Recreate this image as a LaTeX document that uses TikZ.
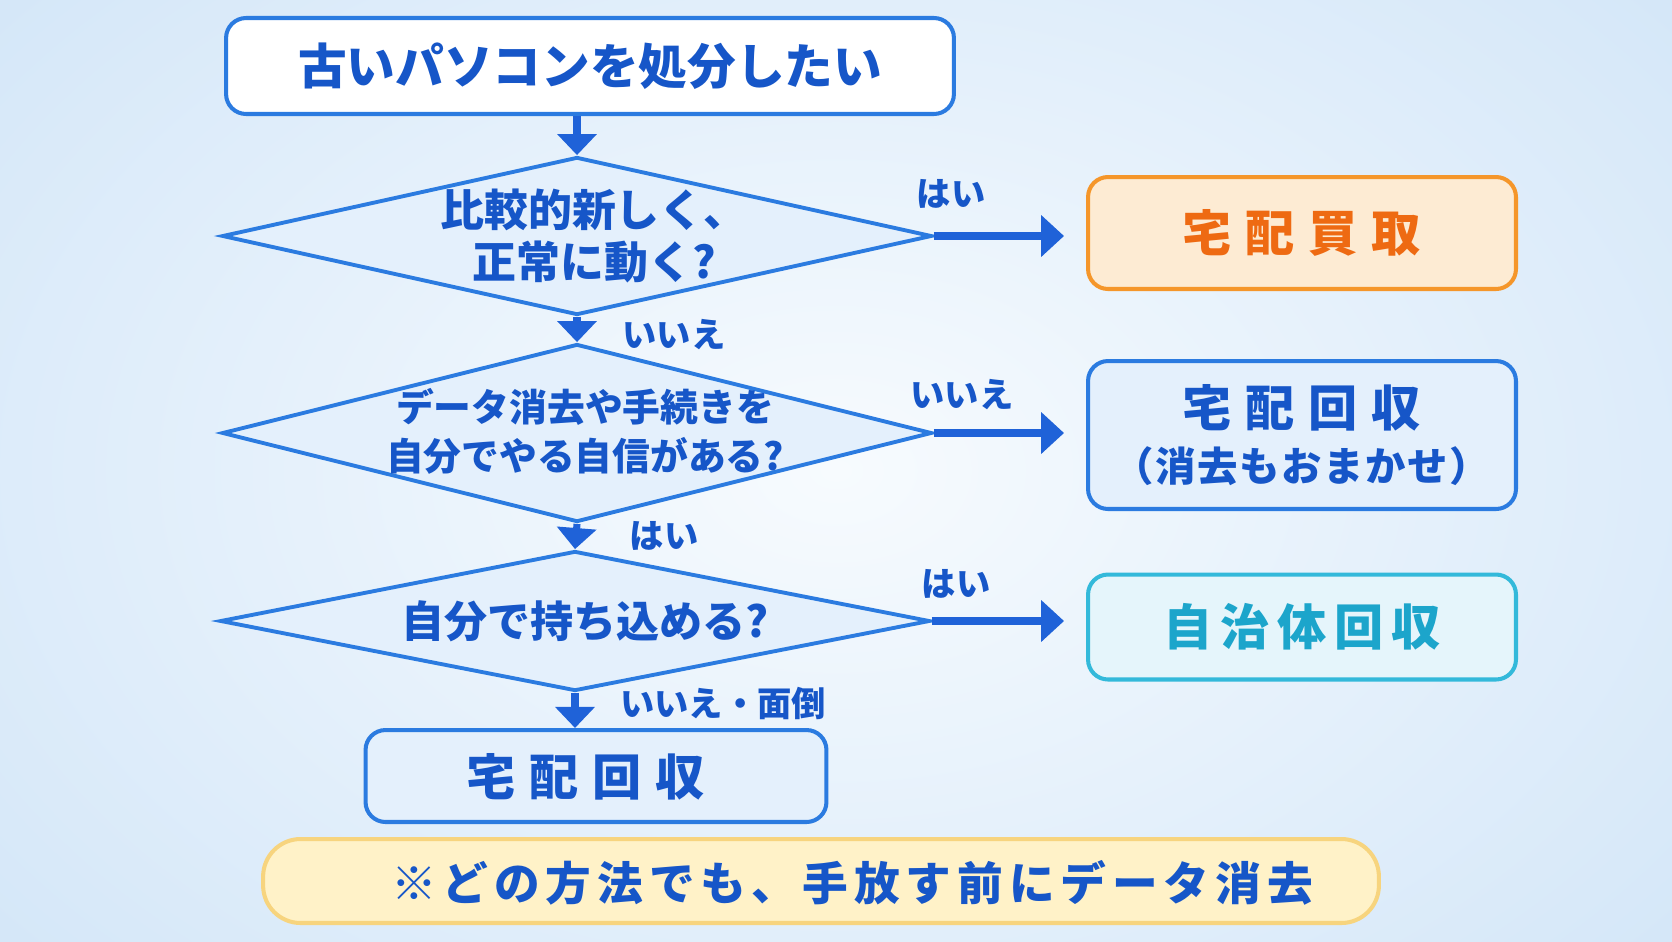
\documentclass[tikz,border=0pt]{standalone}
\usepackage{fontspec}
\setmainfont{Noto Sans CJK JP}
\newfontfamily\jpA{Noto Sans CJK JP}[LetterSpace=28]
\newfontfamily\jpB{Noto Sans CJK JP}[LetterSpace=16]
\newfontfamily\jpN{Noto Sans CJK JP}[LetterSpace=13]
\newfontfamily\jpC{Noto Sans CJK JP}[LetterSpace=4]
\usetikzlibrary{shapes.geometric,arrows.meta}
\definecolor{bluebd}{HTML}{2B7BE0}
\definecolor{bluetx}{HTML}{1656C8}
\definecolor{bluefill}{HTML}{E4F0FC}
\definecolor{arrowc}{HTML}{1F62D8}
\definecolor{orbd}{HTML}{F5962A}
\definecolor{orfill}{HTML}{FDEBD3}
\definecolor{ortx}{HTML}{EE6A12}
\definecolor{cybd}{HTML}{33B9DA}
\definecolor{cyfill}{HTML}{E5F5FB}
\definecolor{cytx}{HTML}{1CA5CB}
\definecolor{notefill}{HTML}{FFF2C8}
\definecolor{notebd}{HTML}{F7D47E}
\definecolor{bgout}{HTML}{D3E6F8}
\definecolor{bgin}{HTML}{F7FBFE}
\begin{document}
\begin{tikzpicture}[x=0.02cm,y=-0.02cm,
  box/.style={draw=bluebd,line width=2.3pt,rounded corners=0.4cm,fill=bluefill,inner sep=0pt,align=center},
  dia/.style={diamond,draw=bluebd,line width=2.2pt,fill=bluefill,inner sep=0pt},
  txt/.style={text=bluetx,align=center},
  lbl/.style={text=bluetx,font=\bfseries\fontsize{19.5}{22}\selectfont,inner sep=0pt},
  varr/.style={draw=arrowc,line width=4pt,-{Triangle[length=12pt,width=22pt]}},
  harr/.style={draw=arrowc,line width=4.7pt,-{Triangle[length=13pt,width=23pt]},shorten >=0.44cm}]
\useasboundingbox (0,0) rectangle (1672,941);
\shade[inner color=bgin,outer color=bgout] (-300,-300) rectangle (1972,1241);

% start box
\node[box,fill=white,minimum width=14.56cm,minimum height=1.92cm,text=bluetx,
  font=\bfseries\fontsize{27.7}{32}\selectfont] (start) at (590,66) {古いパソコンを処分したい};

% diamonds
\node[dia,minimum width=14.2cm,minimum height=3.16cm] (d1) at (577,236) {};
\node[txt,font=\bfseries\fontsize{25}{30}\selectfont] (d1t) at (594,236) {比較的新しく、\\正常に動く?};

\node[dia,minimum width=14.2cm,minimum height=3.56cm] (d2) at (577,433) {};
\node[txt,font=\bfseries\fontsize{21.5}{28}\selectfont] (d2t) at (585,431) {データ消去や手続きを\\自分でやる自信がある?};

\node[dia,minimum width=14.2cm,minimum height=2.8cm] (d3) at (575,621) {};
\node[txt,font=\bfseries\fontsize{24.5}{28}\selectfont] (d3t) at (585,621) {自分で持ち込める?};

% result boxes
\node[box,draw=orbd,fill=orfill,text=ortx,minimum width=8.56cm,minimum height=2.24cm,
  font=\bfseries\fontsize{28}{32}\selectfont\jpA] (b1) at (1302,233) {宅配買取};
\node[box,minimum width=8.56cm,minimum height=2.96cm,text=bluetx] (b2) at (1302,435)
  {{\bfseries\fontsize{28}{32}\selectfont\jpA 宅配回収}\\[8pt]{\bfseries\fontsize{23}{27}\selectfont\jpC （消去もおまかせ）}};
\node[box,draw=cybd,fill=cyfill,text=cytx,minimum width=8.56cm,minimum height=2.1cm,
  font=\bfseries\fontsize{28}{32}\selectfont\jpB] (b3) at (1302,627) {自治体回収};
\node[box,minimum width=9.22cm,minimum height=1.84cm] (bot) at (596,776) {};
\node[txt,font=\bfseries\fontsize{28}{32}\selectfont\jpA] (bott) at (586,777) {宅配回収};

% note
\node[box,draw=notebd,fill=notefill,rounded corners=0.75cm,minimum width=22.32cm,minimum height=1.68cm] (note) at (821,881) {};
\node[txt,font=\bfseries\fontsize{26}{30}\selectfont\jpN] (notet) at (852,883) {※どの方法でも、手放す前にデータ消去};

% connectors
\draw[varr] (start.south -| d1.north) -- (d1.north);
\draw[varr] (d1.south) -- (d2.north);
\draw[varr] (d2.south) -- (d3.north);
\draw[varr] (d3.south) -- (d3.south |- bot.north);
\draw[harr] (d1.east) -- (d1.east -| b1.west);
\draw[harr] (d2.east) -- (d2.east -| b2.west);
\draw[harr] (d3.east) -- (d3.east -| b3.west);

% labels
\node[lbl] (l1) at (951,194) {はい};
\node[lbl] (l2) at (674,335) {いいえ};
\node[lbl] (l3) at (962,395) {いいえ};
\node[lbl] (l4) at (664,536) {はい};
\node[lbl] (l5) at (956,584) {はい};
\node[lbl] (l6) at (723,703) {いいえ・面倒};
\end{tikzpicture}
\end{document}
